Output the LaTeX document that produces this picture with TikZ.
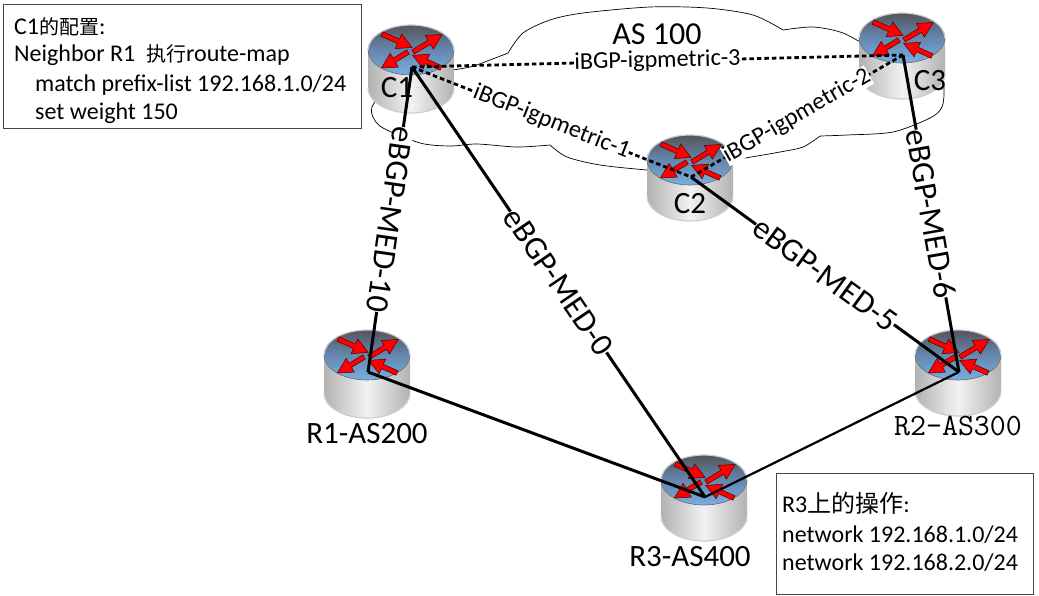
\documentclass[tikz,border=0pt]{standalone}
\usepackage{fontspec}
\setmainfont{Carlito}
\newfontfamily\cjk{Noto Sans CJK SC}
\newcommand{\fs}[1]{\fontsize{#1}{#1}\selectfont}
\definecolor{rimgray}{RGB}{205,205,205}
\definecolor{bodygray}{RGB}{178,178,178}
\definecolor{topdark}{RGB}{85,85,90}
\definecolor{topmid}{RGB}{100,135,175}
\definecolor{topblue}{RGB}{120,175,225}
\definecolor{boxgray}{RGB}{70,70,70}
\tikzset{
  ebgp/.style={line width=3pt,black},
  ibgp/.style={line width=2.8pt,black,dash pattern=on 4.5pt off 3pt},
  thinlink/.style={line width=2.2pt,black},
  ebgplabel/.style={font=\fs{32.5},fill=white,inner sep=0pt,sloped,allow upside down},
  ibgplabel/.style={font=\fs{24.2},fill=white,inner sep=0pt,sloped},
  routername/.style={font=\fs{31},inner sep=0pt},
  infobox/.style={draw=boxgray,line width=1pt,fill=white},
  infotext/.style={font=\fs{24},inner sep=0pt,anchor=base west},
  anchorpt/.style={inner sep=0pt,minimum size=0pt},
  redarrow/.style={fill=red,draw=black!70!red,line width=0.5pt}
}
\newcommand{\rarrow}[4]{%
  \begin{scope}[shift={(#1,#2)},rotate=#3]
    \path[redarrow] (0,-2.4)--(#4-15,-2.4)--(#4-15,-8)--(#4,0)--(#4-15,8)--(#4-15,2.4)--(0,2.4)--cycle;
  \end{scope}}
% name, centre x, centre y, body height
\newcommand{\routerbox}[4]{%
  \begin{scope}[shift={(#2,#3)},x=1pt,y=1pt]
    \shade[left color=bodygray,right color=bodygray,middle color=white!95!black,shading angle=90,draw=none]
      (-43,0)--(-43,-#4) arc[start angle=180,end angle=360,x radius=43,y radius=25]--(43,0)--cycle;
    \draw[rimgray,line width=1.2pt] (-43,-#4) arc[start angle=180,end angle=360,x radius=43,y radius=25];
    \shade[top color=topdark,bottom color=topblue,middle color=topmid] (0,0) ellipse[x radius=42.5,y radius=25];
    \draw[rimgray,line width=1.2pt] (-43,0) arc[start angle=180,end angle=0,x radius=43,y radius=25];
    \draw[black!60,line width=0.6pt] (-43,0) arc[start angle=180,end angle=360,x radius=43,y radius=25];
    \rarrow{-29}{16}{-24}{33}
    \rarrow{2}{-2}{31}{34}
    \rarrow{30}{-18}{156}{31}
    \rarrow{-3}{-2}{211}{31}
    \node[anchorpt] (#1) at (1,-17) {};
  \end{scope}}
\begin{document}
\begin{tikzpicture}[x=1pt,y=-1pt]
\useasboundingbox (0,0) rectangle (1039,595);
% cloud
\draw[black,line width=0.7pt]
  plot[smooth] coordinates {(440,72)(470,67)(490,60)(508,53)}
  plot[smooth] coordinates {(508,53)(523,33)(550,20)(583,13)(650,7)(707,8)(753,15)(783,30)}
  plot[smooth] coordinates {(783,30)(813,27)(843,33)(870,48)}
  plot[smooth] coordinates {(940,70)(944,88)(942,107)(930,118)(893,132)(847,135)(820,136)}
  plot[smooth] coordinates {(820,136)(803,147)(780,152)(757,156)(720,162)}
  plot[smooth] coordinates {(680,172)(647,170)(600,165)(567,157)(550,145)}
  plot[smooth] coordinates {(550,145)(517,147)(477,144)(450,146)(420,143)(383,128)(373,117)(372,107)(380,95)};
\node[font=\fs{32},inner sep=0pt] (as100) at (657,34) {AS 100};
% routers
\routerbox{c1}{411}{50}{38}
\routerbox{c2}{690}{160}{36}
\routerbox{c3}{902}{38}{36}
\routerbox{r1}{367}{355}{38}
\routerbox{r2}{958}{355}{36}
\routerbox{r3}{704}{480}{36}
% links
\draw[ibgp] (c1.center) -- node[ibgplabel,pos=.5] (l3) {iBGP-igpmetric-3} (c3.center);
\draw[ibgp] (c1.center) -- node[ibgplabel,pos=.5] (l1) {iBGP-igpmetric-1} (c2.center);
\draw[ibgp] (c2.center) -- node[ibgplabel,pos=.5] (l2) {iBGP-igpmetric-2} (c3.center);
\draw[ebgp] (c1.center) -- node[ebgplabel,pos=.5] (m10) {eBGP-MED-10} (r1.center);
\draw[ebgp] (c1.center) -- node[ebgplabel,pos=.5] (m0) {eBGP-MED-0} (r3.center);
\draw[ebgp] (c2.center) -- node[ebgplabel,pos=.5] (m5) {eBGP-MED-5} (r2.center);
\draw[ebgp] (c3.center) -- node[ebgplabel,pos=.5] (m6) {eBGP-MED-6} (r2.center);
\draw[ebgp] (r1.center) -- (r3.center);
\draw[thinlink] (r3.center) -- (r2.center);
% names
\node[routername] (n1) at (397,88) {C1};
\node[routername] (n2) at (690,204) {C2};
\node[routername] (n3) at (930,81) {C3};
\node[routername] (n4) at (367,434) {R1-AS200};
\node[routername,font=\fs{31}\ttfamily] (n5) at (958,426) {R2-AS300};
\node[routername] (n6) at (690,557) {R3-AS400};
% info boxes
\node[infobox,minimum width=358pt,minimum height=124pt,anchor=north west,inner sep=0pt] (box1) at (3,4) {};
\node[infotext] (t1) at (14,34) {C1{\cjk\fs{20}的配置}:};
\node[infotext] (t2) at (14,61) {Neighbor R1\ \ {\cjk\fs{20}执行}route-map};
\node[infotext] (t3) at (35,91) {match prefix-list 192.168.1.0/24};
\node[infotext] (t4) at (35,119) {set weight 150};
\node[infobox,minimum width=257pt,minimum height=121pt,anchor=north west,inner sep=0pt] (box2) at (776,473) {};
\node[infotext] (t5) at (782,512) {R3{\cjk\fs{24}上的操作}:};
\node[infotext] (t6) at (782,542) {network 192.168.1.0/24};
\node[infotext] (t7) at (782,570) {network 192.168.2.0/24};
\end{tikzpicture}
\end{document}
